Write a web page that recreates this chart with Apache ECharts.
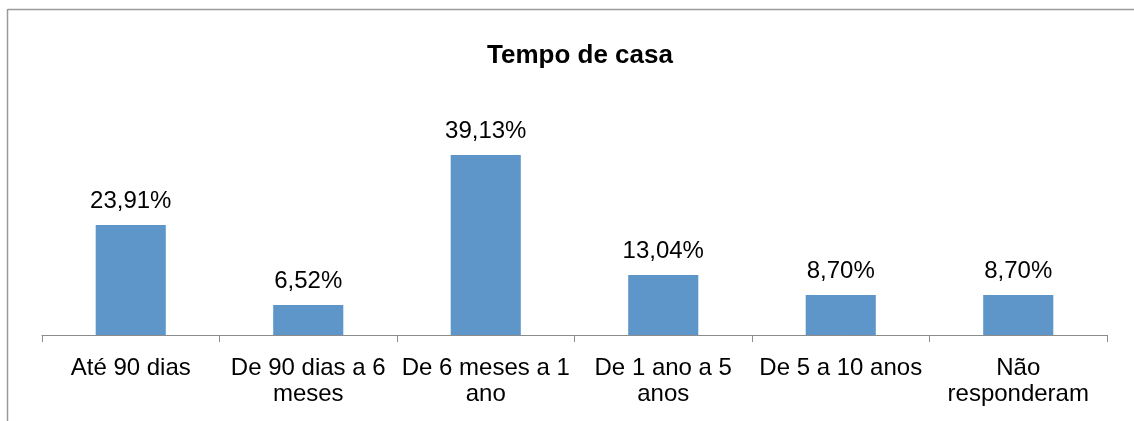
<!DOCTYPE html>
<html><head><meta charset="utf-8">
<script src="https://cdn.jsdelivr.net/npm/echarts@6/dist/echarts.min.js"></script>
<style>html,body{margin:0;padding:0;background:#fff}#c{width:1134px;height:421px}</style>
</head><body><div id="c"></div>
<script>
const categories = ['Até 90 dias', 'De 90 dias a 6\nmeses', 'De 6 meses a 1\nano', 'De 1 ano a 5\nanos', 'De 5 a 10 anos', 'Não\nresponderam'];
const values = [23.91, 6.52, 39.13, 13.04, 8.70, 8.70];
const chart = echarts.init(document.getElementById('c'));
chart.setOption({
  animation: false,
  title: { text: 'Tempo de casa', left: 575, top: 38, textAlign: 'center',
    textStyle: { fontFamily: 'Liberation Sans, Arial', fontSize: 26, fontWeight: 'bold', color: '#000' } },
  graphic: [
    { type: 'line', shape: { x1: 8, y1: 9.5, x2: 1134, y2: 9.5 }, style: { stroke: '#9a9a9a', lineWidth: 1.5 } },
    { type: 'line', shape: { x1: 7.5, y1: 9, x2: 7.5, y2: 421 }, style: { stroke: '#9a9a9a', lineWidth: 1.5 } }
  ],
  grid: { left: 42, right: 27, top: 151, bottom: 86 },
  xAxis: { type: 'category', data: categories,
    axisLine: { lineStyle: { color: '#8c8c8c', width: 1 } },
    axisTick: { show: true, length: 7, lineStyle: { color: '#8c8c8c' } },
    axisLabel: { interval: 0, color: '#000', fontFamily: 'Liberation Sans, Arial', fontSize: 24, lineHeight: 26, margin: 20 } },
  yAxis: { type: 'value', min: 0, max: 40, show: false, splitLine: { show: false } },
  series: [{ type: 'bar', data: values, barCategoryGap: '60.5%',
    itemStyle: { color: '#5F96CA' },
    label: { show: true, position: 'top', distance: 12, color: '#000', fontFamily: 'Liberation Sans, Arial', fontSize: 24,
      formatter: p => p.value.toFixed(2).replace('.', ',') + '%' } }]
});
</script></body></html>
